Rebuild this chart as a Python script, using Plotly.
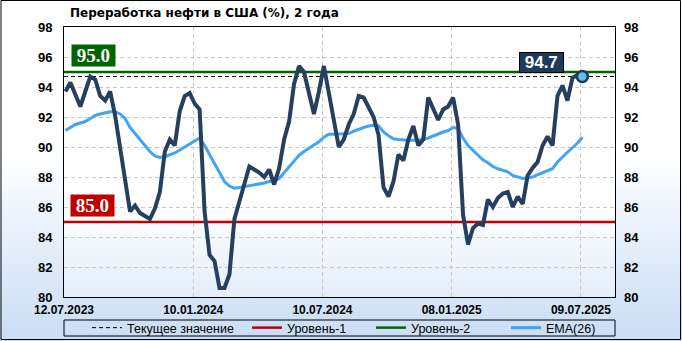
import base64
import pandas as pd
import plotly.graph_objects as go

# ---------------- data ----------------
start_date = "2023-07-14"
refining = [
    93.7, 94.3, 93.5, 92.7, 93.7, 94.7, 94.5, 93.4, 93.1, 93.7,
    92.1, 89.9, 87.5, 85.7, 86.1, 85.6, 85.4, 85.2, 85.9, 87.0,
    89.7, 90.5, 90.1, 92.4, 93.4, 93.6, 92.9, 92.5, 85.7, 82.8,
    82.4, 80.6, 80.6, 81.5, 85.2, 86.4, 87.7, 88.7, 88.5, 88.3,
    88.0, 88.5, 87.5, 88.6, 90.5, 91.7, 94.2, 95.4, 95.0, 93.6,
    92.2, 93.7, 95.4, 93.6, 91.8, 90.0, 90.5, 91.5, 92.2, 93.4,
    93.3, 92.7, 92.0, 90.8, 87.3, 86.7, 87.7, 89.5, 89.1, 90.5,
    91.4, 90.1, 90.5, 93.3, 92.5, 91.8, 92.5, 92.7, 93.3, 91.5,
    85.5, 83.5, 84.6, 84.9, 84.8, 86.5, 86.0, 86.6, 86.9, 87.0,
    86.0, 86.7, 86.2, 88.1, 88.6, 89.0, 90.1, 90.7, 90.1, 93.4,
    94.1, 93.1, 94.6, 94.8, 94.7,
]
ema26 = [
    91.1, 91.3, 91.5, 91.6, 91.7, 91.9, 92.1, 92.2, 92.3, 92.35,
    92.35, 92.2, 91.9, 91.3, 90.9, 90.5, 90.1, 89.7, 89.4, 89.3,
    89.35, 89.45, 89.6, 89.8, 90.0, 90.2, 90.45, 90.6, 90.1, 89.5,
    88.8, 88.2, 87.7, 87.4, 87.25, 87.3, 87.35, 87.45, 87.5, 87.55,
    87.6, 87.7, 87.75, 87.9, 88.3, 88.7, 89.1, 89.45, 89.7, 89.9,
    90.1, 90.35, 90.65, 90.85, 90.85, 90.85, 90.85, 90.9, 91.05, 91.2,
    91.3, 91.4, 91.45, 91.4, 91.0, 90.75, 90.55, 90.5, 90.45, 90.45,
    90.45, 90.45, 90.5, 90.6, 90.75, 90.85, 91.0, 91.1, 91.3, 91.25,
    90.6, 90.1, 89.8, 89.5, 89.15, 88.95, 88.7, 88.55, 88.45, 88.35,
    88.1, 88.0, 87.9, 87.95, 88.0, 88.15, 88.3, 88.45, 88.55, 89.0,
    89.35, 89.65, 89.95, 90.25, 90.65,
]
level_1 = 85.0
level_2 = 95.0
tick_dates = ["2023-07-12", "2024-01-10", "2024-07-10", "2025-01-08", "2025-07-09"]
tick_labels = ["12.07.2023", "10.01.2024", "10.07.2024", "08.01.2025", "09.07.2025"]
x_range = ["2023-07-12", "2025-08-26"]
y_range = [80, 98]
title_text = "Переработка нефти в США (%), 2 года"
legend_names = ["Текущее значение", "Уровень-1", "Уровень-2", "EMA(26)"]

dates = pd.date_range(start_date, periods=len(refining), freq="7D")
current = refining[-1]

# ---------------- layout geometry ----------------
W, H = 682, 341
ML, MR, MT, MB = 64, 67, 27, 44
PW, PH = W - ML - MR, H - MT - MB


def px_x(px):
    return (px - ML) / PW


def px_y(py):
    return (H - MB - py) / PH


def svg_uri(stops, w, h):
    st = "".join(f'<stop offset="{o}" stop-color="{c}"/>' for o, c in stops)
    svg = (f'<svg xmlns="http://www.w3.org/2000/svg" width="{w}" height="{h}" '
           f'viewBox="0 0 {w} {h}" preserveAspectRatio="none"><defs>'
           f'<linearGradient id="g" x1="0" y1="0" x2="0" y2="1">{st}</linearGradient>'
           f'</defs><rect width="{w}" height="{h}" fill="url(#g)"/></svg>')
    return "data:image/svg+xml;base64," + base64.b64encode(svg.encode()).decode()


NAVY = "#263f5e"
EMA_C = "#42a4f5"
RED = "#c00000"
GREEN = "#006400"
GRID = "#c8c8c8"
TICKFONT = dict(family="Liberation Sans", size=13, color="#000000", weight="bold")
LEGFONT = dict(family="Liberation Sans", size=12.5, color="#000000")

fig = go.Figure()

fig.add_trace(go.Scatter(x=x_range, y=[current, current], mode="lines",
                         name=legend_names[0], legend="legend",
                         line=dict(color="#000000", width=1, dash="4px,3px"),
                         hoverinfo="skip"))
fig.add_trace(go.Scatter(x=x_range, y=[level_1, level_1], mode="lines",
                         name=legend_names[1], legend="legend2",
                         line=dict(color=RED, width=2.5), hoverinfo="skip"))
fig.add_trace(go.Scatter(x=x_range, y=[level_2, level_2], mode="lines",
                         name=legend_names[2], legend="legend3",
                         line=dict(color=GREEN, width=2.5), hoverinfo="skip"))
fig.add_trace(go.Scatter(x=dates, y=ema26, mode="lines", name=legend_names[3],
                         legend="legend4", line=dict(color=EMA_C, width=3)))
fig.add_trace(go.Scatter(x=dates, y=refining, mode="lines", showlegend=False,
                         line=dict(color=NAVY, width=4)))
fig.add_trace(go.Scatter(x=[dates[-1]], y=[current], mode="markers", showlegend=False,
                         marker=dict(size=11, color="#63bfdc",
                                     line=dict(color="#1b3a5e", width=2.5))))
# invisible trace to activate the right-hand axis
fig.add_trace(go.Scatter(x=[dates[0]], y=[refining[0]], yaxis="y2", mode="markers",
                         marker=dict(opacity=0), showlegend=False, hoverinfo="skip"))

ann_font_serif = dict(family="Liberation Serif", size=19, color="#ffffff", weight="bold")
nb = "\u00a0"
fig.add_annotation(x=px_x(71), xref="paper", xanchor="left", y=level_2, yref="y",
                   yanchor="bottom", yshift=5, text=f"{nb}{level_2:.1f}{nb}",
                   showarrow=False, bgcolor=GREEN, borderpad=0, font=ann_font_serif)
fig.add_annotation(x=px_x(70), xref="paper", xanchor="left", y=level_1, yref="y",
                   yanchor="bottom", yshift=5, text=f"{nb}{level_1:.1f}{nb}",
                   showarrow=False, bgcolor=RED, borderpad=0, font=ann_font_serif)
fig.add_annotation(x=dates[-1], xref="x", xanchor="right", xshift=-18, y=current, yref="y",
                   yanchor="bottom", yshift=4, text=f"{nb}{current:.1f}{nb}",
                   showarrow=False, bgcolor="#1b3a5e", bordercolor="#000000",
                   borderwidth=1, borderpad=0,
                   font=dict(family="Liberation Sans", size=17, color="#ffffff", weight="bold"))


def leg(text_px):
    return dict(orientation="h", x=px_x(text_px - 40), xanchor="left", y=px_y(328),
                yanchor="middle", font=LEGFONT, bgcolor="rgba(0,0,0,0)",
                borderwidth=0, itemwidth=30)


fig.update_layout(
    width=W, height=H,
    margin=dict(l=ML, r=MR, t=MT, b=MB, autoexpand=False),
    paper_bgcolor="#ffffff",
    plot_bgcolor="rgba(0,0,0,0)",
    showlegend=True,
    title=dict(text=title_text, xref="container", yref="container",
               x=70 / W, xanchor="left", y=1 - 13 / H, yanchor="middle",
               font=dict(family="DejaVu Sans", size=12, color="#000000", weight="bold")),
    xaxis=dict(type="date", range=x_range, tickvals=tick_dates, ticktext=tick_labels,
               tickfont=dict(family="Liberation Sans", size=12, color="#000000", weight="bold"),
               showgrid=True, gridcolor=GRID, griddash="4px,3px", gridwidth=1,
               showline=True, linecolor="#000000", linewidth=1, mirror=True,
               ticks="", ticklabelstandoff=2, zeroline=False, fixedrange=True),
    yaxis=dict(range=y_range, tick0=80, dtick=2, tickfont=TICKFONT,
               showgrid=True, gridcolor=GRID, griddash="4px,3px", gridwidth=1,
               showline=True, linecolor="#000000", linewidth=1, mirror=True,
               ticks="", ticklabelstandoff=8, zeroline=False, fixedrange=True),
    yaxis2=dict(range=y_range, tick0=80, dtick=2, tickfont=TICKFONT, overlaying="y",
                side="right", showgrid=False, showline=False, zeroline=False,
                ticks="", ticklabelstandoff=8, fixedrange=True),
    legend=leg(127),
    legend2=leg(287),
    legend3=leg(411),
    legend4=leg(546),
    images=[
        dict(source=svg_uri([(0, "#ffffff"), (0.45, "#ffffff"), (1, "#c9ddf5")], W, H),
             xref="paper", yref="paper", x=px_x(0), y=px_y(0), sizex=W / PW, sizey=H / PH,
             xanchor="left", yanchor="top", sizing="stretch", layer="below"),
        dict(source=svg_uri([(0, "#ffffff"), (0.65, "#ffffff"), (1, "#e2eefb")], PW, PH),
             xref="paper", yref="paper", x=0, y=1, sizex=1, sizey=1,
             xanchor="left", yanchor="top", sizing="stretch", layer="below"),
    ],
    shapes=[
        dict(type="rect", xref="paper", yref="paper", x0=0, x1=1,
             y0=px_y(336), y1=px_y(320), line=dict(color="#000000", width=1),
             fillcolor="rgba(0,0,0,0)"),
        dict(type="rect", xref="paper", yref="paper", x0=px_x(1), x1=px_x(680.5),
             y0=px_y(339.5), y1=px_y(0.5), line=dict(color="#000000", width=1),
             fillcolor="rgba(0,0,0,0)"),
    ],
)

fig.write_html("out.html")
